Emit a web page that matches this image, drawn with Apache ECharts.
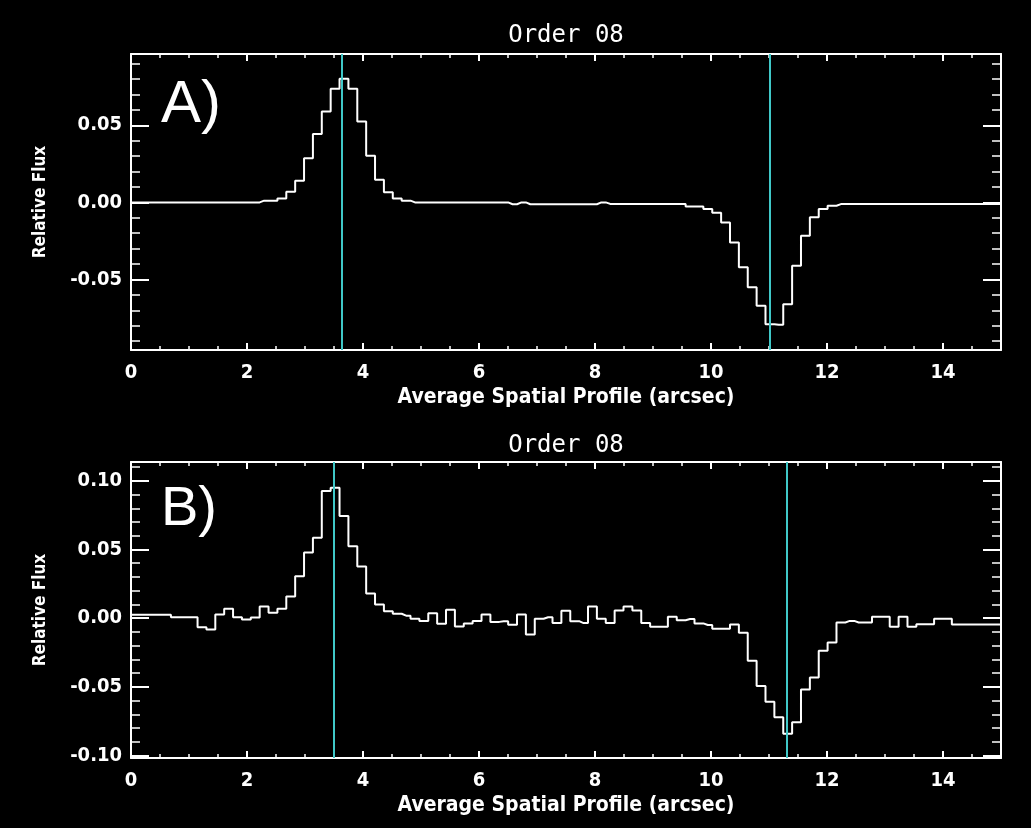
<!DOCTYPE html>
<html>
<head>
<meta charset="utf-8">
<script src="https://cdn.jsdelivr.net/npm/echarts@6/dist/echarts.min.js"></script>
<style>
  html, body { margin: 0; padding: 0; background: #000; }
  #chart { width: 1031px; height: 828px; }
</style>
</head>
<body>
<div id="chart"></div>
<script>
// Spatial bin size of the averaged profile (arcsec); bin i is centred at i * BIN_WIDTH
const BIN_WIDTH = 0.153;

// Panel A: average spatial profile, relative flux per bin
const fluxA = [
  0, 0, 0, 0, 0, 0, 0, 0, 0, 0, 0, 0, 0, 0, 0,
  0.0011, 0.0011, 0.0026, 0.0069, 0.0141, 0.0286, 0.0444, 0.0589, 0.0736, 0.0801,
  0.0736, 0.0524, 0.0303, 0.0147, 0.0065, 0.0026, 0.0011,
  0, 0, 0, 0, 0, 0, 0, 0, 0, 0, 0,
  -0.0012, 0,
  -0.0012, -0.0012, -0.0012, -0.0012, -0.0012, -0.0012, -0.0012, -0.0012,
  0,
  -0.0010, -0.0010, -0.0010, -0.0010, -0.0010, -0.0010, -0.0010, -0.0010, -0.0010,
  -0.0026, -0.0026,
  -0.0043, -0.0068, -0.0130, -0.0260, -0.0420, -0.0550, -0.0670, -0.0790, -0.0794,
  -0.0660, -0.0410, -0.0216, -0.0097, -0.0043, -0.0022,
  -0.0011, -0.0011, -0.0011, -0.0011, -0.0011, -0.0011, -0.0011, -0.0011, -0.0011, -0.0011,
  -0.0011, -0.0011, -0.0011, -0.0011, -0.0011, -0.0011, -0.0011, -0.0011, -0.0011
];

// Panel B: average spatial profile, relative flux per bin
const fluxB = [
  0.0025, 0.0025, 0.0025, 0.0025, 0.0025,
  0.0007, 0.0007, 0.0007,
  -0.0066, -0.0082, 0.0027, 0.0068, 0.0007, -0.0010, 0.0005,
  0.0085, 0.0040, 0.0068, 0.0158, 0.0306, 0.0478, 0.0585, 0.0925, 0.0950,
  0.0743, 0.0524, 0.0376, 0.0180, 0.0100, 0.0050, 0.0032, 0.0018,
  -0.0005, -0.0020, 0.0036, -0.0041, 0.0062, -0.0060, -0.0038, -0.0020, 0.0027,
  -0.0027, -0.0023, -0.0047, 0.0027, -0.0119, -0.0004, 0.0007, -0.0036, 0.0054,
  -0.0022, -0.0036, 0.0085, -0.0004, -0.0036, 0.0056, 0.0085, 0.0056, -0.0036,
  -0.0063, -0.0063, 0.0010, -0.0015, -0.0006, -0.0038, -0.0050, -0.0077, -0.0077,
  -0.0046, -0.0106, -0.0310, -0.0493, -0.0608, -0.0722, -0.0842, -0.0757, -0.0520,
  -0.0432, -0.0238, -0.0177, -0.0031, -0.0020, -0.0031, -0.0031, 0.0010, 0.0010,
  -0.0063, 0.0010, -0.0063, -0.0044, -0.0044, -0.0004, -0.0004,
  -0.0046, -0.0046, -0.0046, -0.0046, -0.0046, -0.0046
];

// Trace positions marked in each panel (arcsec)
const traceLinesA = [3.63, 11.02];
const traceLinesB = [3.49, 11.305];

// Axis ranges
const xRange = [0, 15];
const yRangeA = [-0.0957, 0.0962];
const yRangeB = [-0.1018, 0.1137];

// Tick positions
const xMajorTicks = [0, 2, 4, 6, 8, 10, 12, 14];
const xMinorTicks = [0.5, 1, 1.5, 2.5, 3, 3.5, 4.5, 5, 5.5, 6.5, 7, 7.5, 8.5, 9, 9.5,
  10.5, 11, 11.5, 12.5, 13, 13.5, 14.5];
const yMajorTicksA = [-0.05, 0, 0.05];
const yMinorTicksA = [-0.09, -0.08, -0.07, -0.06, -0.04, -0.03, -0.02, -0.01,
  0.01, 0.02, 0.03, 0.04, 0.06, 0.07, 0.08, 0.09];
const yMajorTicksB = [-0.10, -0.05, 0, 0.05, 0.10];
const yMinorTicksB = [-0.09, -0.08, -0.07, -0.06, -0.04, -0.03, -0.02, -0.01,
  0.01, 0.02, 0.03, 0.04, 0.06, 0.07, 0.08, 0.09, 0.11];

const titles = ['Order 08', 'Order 08'];
const panelTags = ['A)', 'B)'];
const xName = 'Average Spatial Profile (arcsec)';
const yName = 'Relative Flux';

const FG = '#ffffff';
const CYAN = '#40c8c8';
const AXIS_FONT = 'DejaVu Sans Condensed';

const grids = [
  { left: 131, top: 54, width: 870, height: 296 },
  { left: 131, top: 462, width: 870, height: 296 }
];

function toPoints(values) {
  return values.map((v, i) => [i * BIN_WIDTH, v]);
}

const boxLine = { show: true, onZero: false, lineStyle: { color: FG, width: 2 } };
const noLine = { show: false, onZero: false };

function xAxes(gridIndex) {
  const base = {
    type: 'value', gridIndex, min: xRange[0], max: xRange[1],
    splitLine: { show: false }
  };
  return [
    Object.assign({}, base, {
      position: 'bottom', axisLine: boxLine,
      axisTick: { show: true, inside: true, length: 7, customValues: xMajorTicks,
        lineStyle: { color: FG, width: 2 } },
      axisLabel: { show: true, customValues: xMajorTicks, color: FG, margin: 13,
        fontFamily: AXIS_FONT, fontSize: 20, fontWeight: 'bold' },
      name: xName, nameLocation: 'middle', nameGap: 37,
      nameTextStyle: { color: FG, fontFamily: AXIS_FONT, fontSize: 21, fontWeight: 'bold' }
    }),
    Object.assign({}, base, {
      position: 'bottom', axisLine: noLine,
      axisTick: { show: true, inside: true, length: 4, customValues: xMinorTicks,
        lineStyle: { color: FG, width: 1.5 } },
      axisLabel: { show: false }
    }),
    Object.assign({}, base, {
      position: 'top', axisLine: boxLine,
      axisTick: { show: true, inside: true, length: 7, customValues: xMajorTicks,
        lineStyle: { color: FG, width: 2 } },
      axisLabel: { show: false }
    }),
    Object.assign({}, base, {
      position: 'top', axisLine: noLine,
      axisTick: { show: true, inside: true, length: 4, customValues: xMinorTicks,
        lineStyle: { color: FG, width: 1.5 } },
      axisLabel: { show: false }
    })
  ];
}

function yAxes(gridIndex, range, major, minor) {
  const base = {
    type: 'value', gridIndex, min: range[0], max: range[1],
    splitLine: { show: false }
  };
  return [
    Object.assign({}, base, {
      position: 'left', axisLine: boxLine,
      axisTick: { show: true, inside: true, length: 18, customValues: major,
        lineStyle: { color: FG, width: 2 } },
      axisLabel: { show: true, customValues: major, color: FG, margin: 9,
        fontFamily: AXIS_FONT, fontSize: 20, fontWeight: 'bold',
        formatter: v => v.toFixed(2) },
      name: yName, nameLocation: 'middle', nameGap: 82, nameRotate: 90,
      nameTextStyle: { color: FG, fontFamily: AXIS_FONT, fontSize: 17, fontWeight: 'bold' }
    }),
    Object.assign({}, base, {
      position: 'left', axisLine: noLine,
      axisTick: { show: true, inside: true, length: 9, customValues: minor,
        lineStyle: { color: FG, width: 1.5 } },
      axisLabel: { show: false }
    }),
    Object.assign({}, base, {
      position: 'right', axisLine: boxLine,
      axisTick: { show: true, inside: true, length: 18, customValues: major,
        lineStyle: { color: FG, width: 2 } },
      axisLabel: { show: false }
    }),
    Object.assign({}, base, {
      position: 'right', axisLine: noLine,
      axisTick: { show: true, inside: true, length: 9, customValues: minor,
        lineStyle: { color: FG, width: 1.5 } },
      axisLabel: { show: false }
    })
  ];
}

function profileSeries(values, traces, gridIdx) {
  return {
    type: 'line',
    xAxisIndex: gridIdx * 4,
    yAxisIndex: gridIdx * 4,
    data: toPoints(values),
    step: 'middle',
    showSymbol: false,
    silent: true,
    lineStyle: { color: FG, width: 2 },
    markLine: {
      silent: true,
      symbol: 'none',
      label: { show: false },
      lineStyle: { color: CYAN, width: 2, type: 'solid' },
      data: traces.map(v => ({ xAxis: v }))
    }
  };
}

const chart = echarts.init(document.getElementById('chart'), null, { renderer: 'canvas' });

chart.setOption({
  backgroundColor: '#000',
  animation: false,
  grid: grids,
  xAxis: xAxes(0).concat(xAxes(1)),
  yAxis: yAxes(0, yRangeA, yMajorTicksA, yMinorTicksA)
    .concat(yAxes(1, yRangeB, yMajorTicksB, yMinorTicksB)),
  series: [
    profileSeries(fluxA, traceLinesA, 0),
    profileSeries(fluxB, traceLinesB, 1)
  ],
  graphic: [
    { type: 'text', x: 566, y: 36, style: { text: titles[0], align: 'center', verticalAlign: 'middle',
      fill: FG, font: '24px "DejaVu Sans Mono"' } },
    { type: 'text', x: 566, y: 446, style: { text: titles[1], align: 'center', verticalAlign: 'middle',
      fill: FG, font: '24px "DejaVu Sans Mono"' } },
    { type: 'text', x: 161, y: 105, style: { text: panelTags[0], align: 'left', verticalAlign: 'middle',
      fill: FG, font: '60px "Liberation Sans"' } },
    { type: 'text', x: 161, y: 510, style: { text: panelTags[1], align: 'left', verticalAlign: 'middle',
      fill: FG, font: '56px "Liberation Sans"' } }
  ]
});
</script>
</body>
</html>
